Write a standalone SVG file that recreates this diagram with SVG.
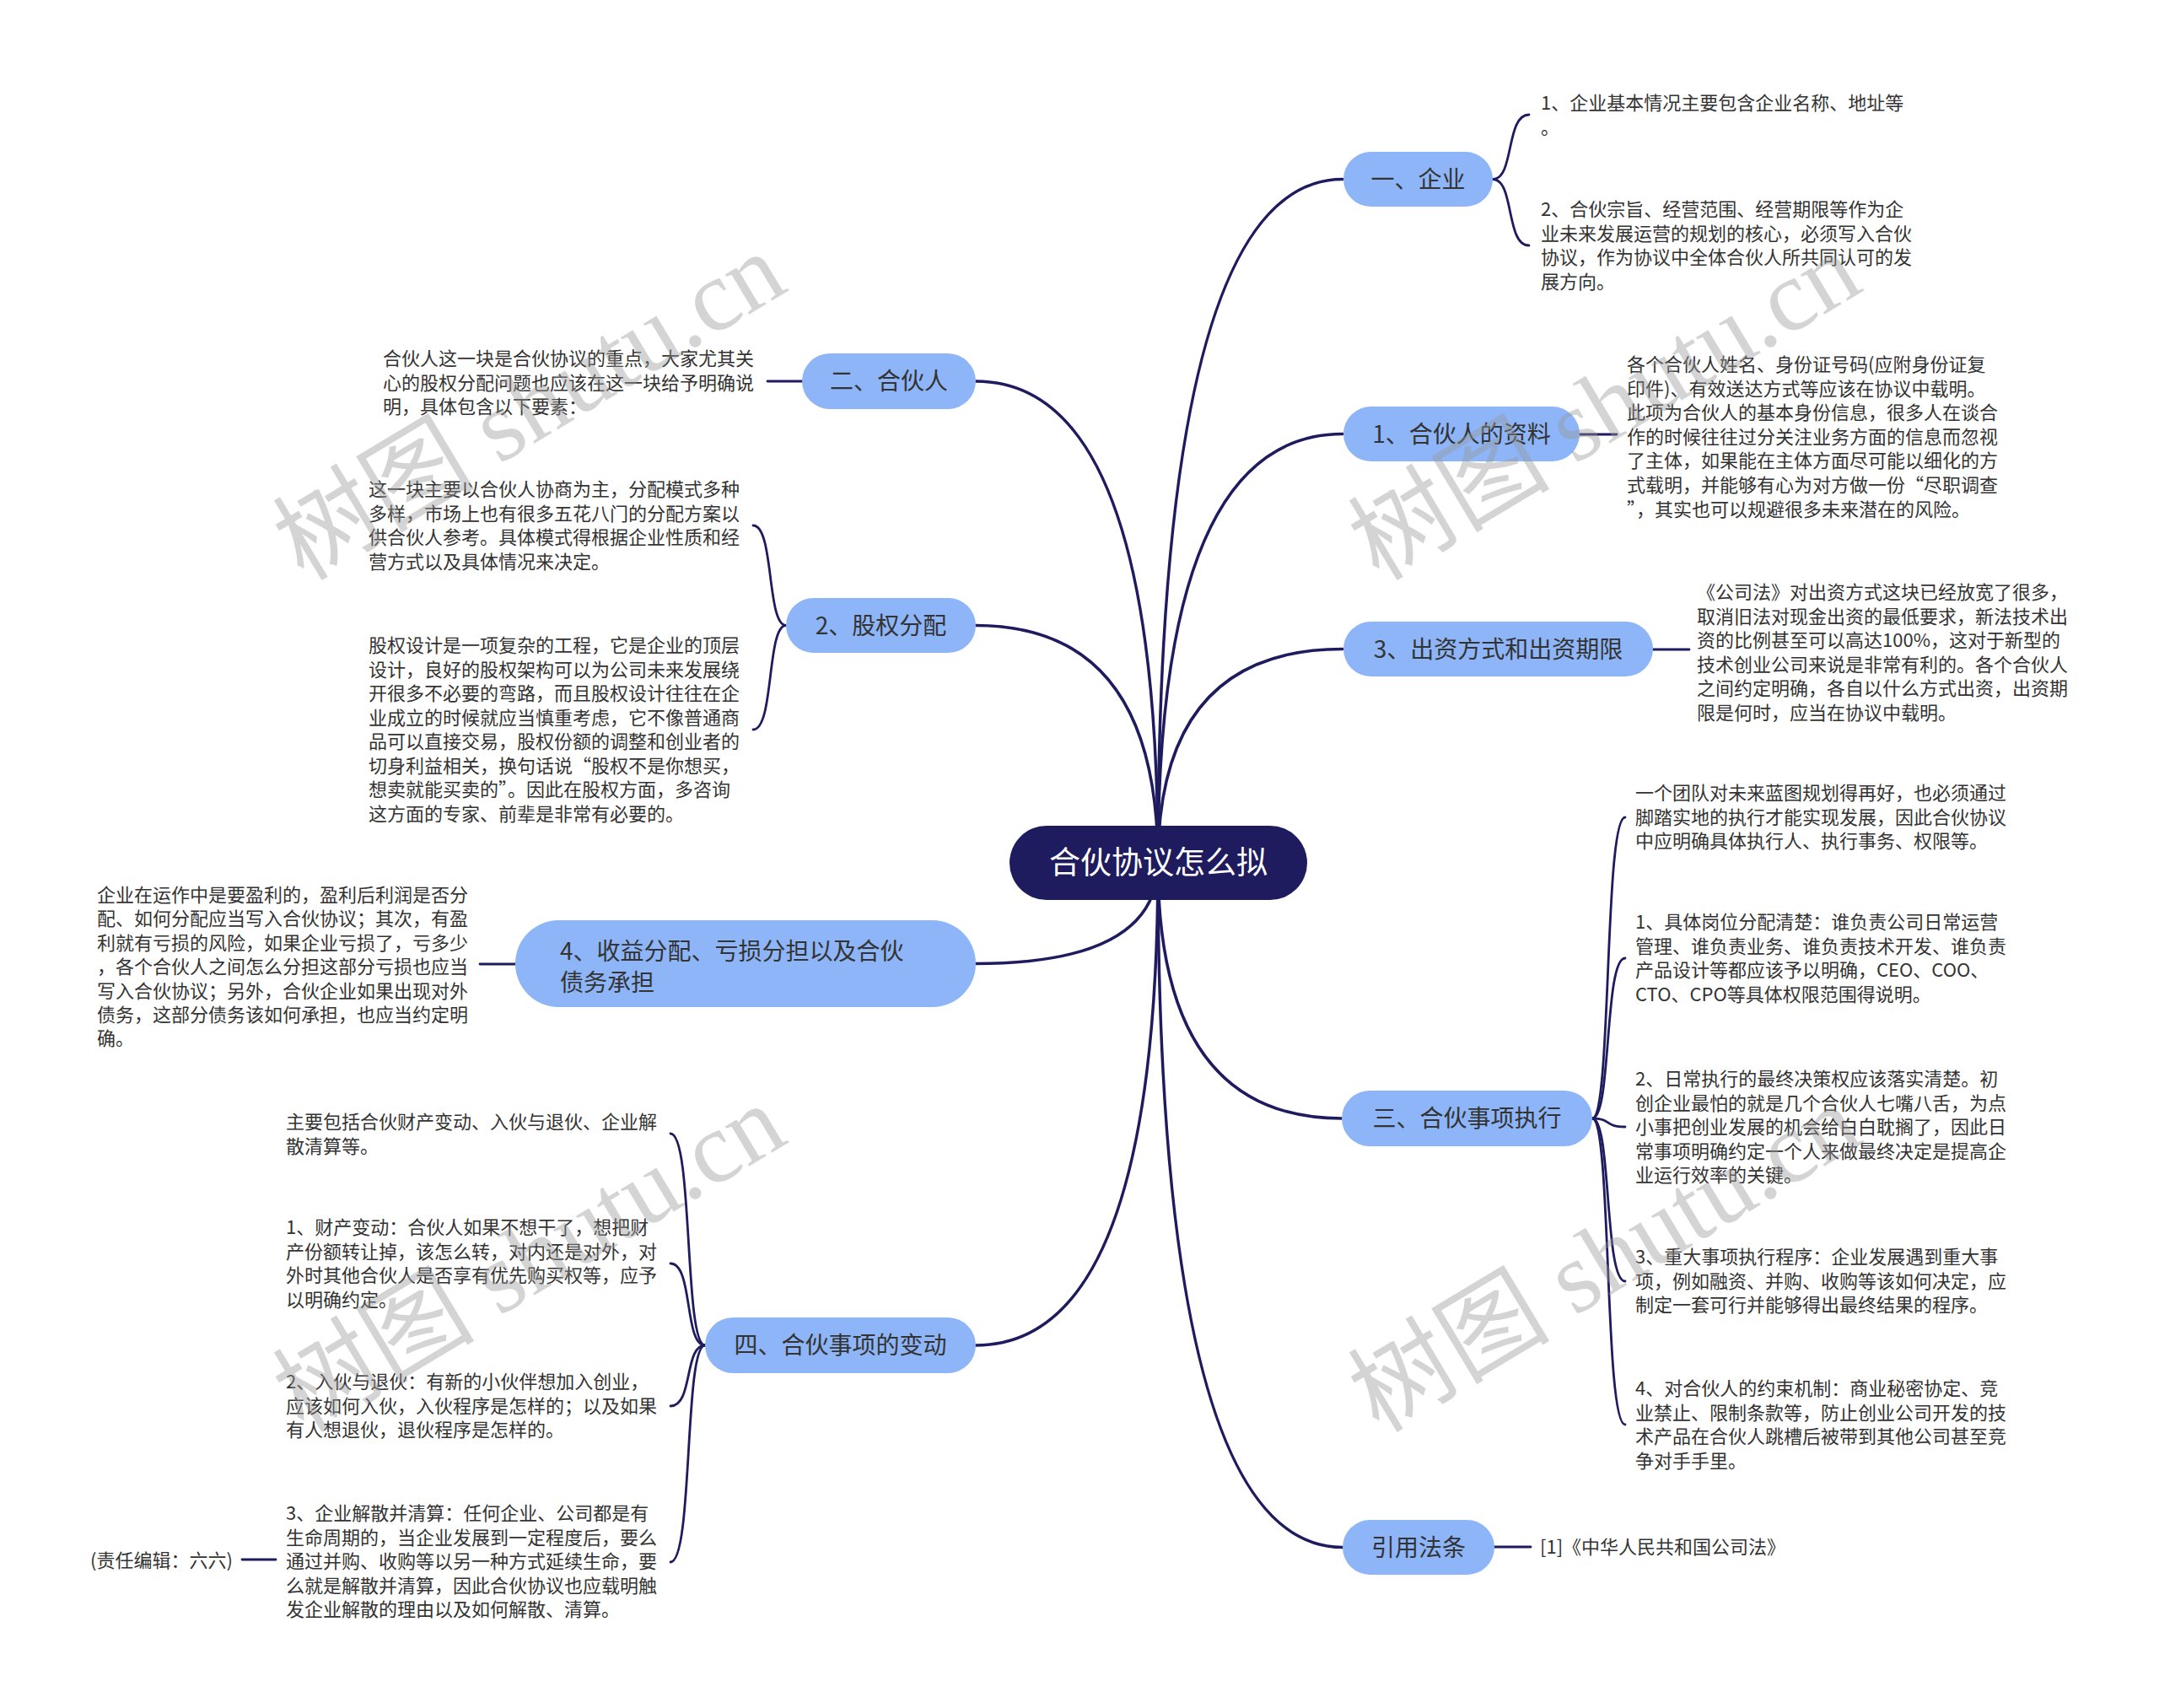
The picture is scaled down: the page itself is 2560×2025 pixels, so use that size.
<svg xmlns="http://www.w3.org/2000/svg" width="2560" height="2025" viewBox="0 0 2560 2025">
<style>
.t{font-family:"Noto Sans CJK SC","Noto Sans",sans-serif;font-size:22px;fill:#333}
.n{font-family:"Noto Sans CJK SC","Noto Sans",sans-serif;font-size:28px;fill:#333;text-anchor:middle}
.nl{font-family:"Noto Sans CJK SC","Noto Sans",sans-serif;font-size:28px;fill:#333}
.nb{fill:#8db5f7}
.cb{fill:#1e1b5e}
.ct{font-family:"Noto Sans CJK SC","Noto Sans",sans-serif;font-size:37px;fill:#fff;text-anchor:middle}
.ln{fill:none;stroke:#1e1b5e;stroke-width:3.5;stroke-linecap:round}
.sl{fill:none;stroke:#1e1b5e;stroke-width:2.8;stroke-linecap:round}
.wm{font-family:"Liberation Serif","Noto Sans CJK SC",serif;font-size:120px;fill:#999;fill-opacity:0.42}
</style>
<rect width="2560" height="2025" fill="#fff"/>
<g id="connectors">
<path class="ln" d="M1373,1023 Q1373,212.5 1592,212.5"/>
<path class="ln" d="M1373,1023 Q1373,514.5 1592,514.5"/>
<path class="ln" d="M1373,1023 Q1373,769.5 1592,769.5"/>
<path class="ln" d="M1373,1023 Q1373,1326 1591,1326"/>
<path class="ln" d="M1373,1023 Q1373,1834.5 1592,1834.5"/>
<path class="ln" d="M1373,1023 Q1373,452 1157,452"/>
<path class="ln" d="M1373,1023 Q1373,741.5 1157,741.5"/>
<path class="ln" d="M1373,1023 Q1373,1142.5 1157,1142.5"/>
<path class="ln" d="M1373,1023 Q1373,1595 1157,1595"/>
<path class="sl" d="M1770,212.5 C1796,212.5 1785,136 1813,136"/>
<path class="sl" d="M1770,212.5 C1796,212.5 1785,291 1813,291"/>
<path class="sl" d="M1873,515 L1917,515"/>
<path class="sl" d="M1960,770 L2003,770"/>
<path class="sl" d="M1888,1326 C1911,1326 1902,969 1927,969"/>
<path class="sl" d="M1888,1326 C1911,1326 1902,1136 1927,1136"/>
<path class="sl" d="M1888,1326 C1911,1326 1902,1336 1927,1336"/>
<path class="sl" d="M1888,1326 C1911,1326 1902,1519 1927,1519"/>
<path class="sl" d="M1888,1326 C1911,1326 1902,1689 1927,1689"/>
<path class="sl" d="M1772,1834 L1815,1834"/>
<path class="sl" d="M951,452 L910,452"/>
<path class="sl" d="M932,741.5 C909,741.5 918,623 893,623"/>
<path class="sl" d="M932,741.5 C909,741.5 918,865 893,865"/>
<path class="sl" d="M611,1143 L569,1143"/>
<path class="sl" d="M836,1595 C811,1595 822,1344 795,1344"/>
<path class="sl" d="M836,1595 C811,1595 822,1498 795,1498"/>
<path class="sl" d="M836,1595 C811,1595 822,1667 795,1667"/>
<path class="sl" d="M836,1595 C811,1595 822,1852 795,1852"/>
<path class="sl" d="M327,1849 L287,1849"/>
</g>
<g id="root">
<rect class="cb" x="1197" y="979" width="353" height="88" rx="44"/>
<text class="ct" x="1373.5" y="1036">合伙协议怎么拟</text>
</g>
<g id="n-qiye">
<rect class="nb" x="1593" y="180" width="177" height="65" rx="32.5"/>
<text class="n" x="1681.5" y="222.5">一、企业</text>
</g>
<g id="n-qiye-1">
<text class="t"><tspan x="1827" y="130">1、企业基本情况主要包含企业名称、地址等</tspan><tspan x="1827" y="158.5">。</tspan></text>
</g>
<g id="n-qiye-2">
<text class="t"><tspan x="1827" y="256">2、合伙宗旨、经营范围、经营期限等作为企</tspan><tspan x="1827" y="284.5">业未来发展运营的规划的核心，必须写入合伙</tspan><tspan x="1827" y="313">协议，作为协议中全体合伙人所共同认可的发</tspan><tspan x="1827" y="341.5">展方向。</tspan></text>
</g>
<g id="n-ziliao">
<rect class="nb" x="1593" y="482" width="280" height="65" rx="32.5"/>
<text class="n" x="1733" y="524.5">1、合伙人的资料</text>
</g>
<g id="n-ziliao-1">
<text class="t"><tspan x="1929" y="440">各个合伙人姓名、身份证号码(应附身份证复</tspan><tspan x="1929" y="468.6">印件)、有效送达方式等应该在协议中载明。</tspan><tspan x="1929" y="497.2">此项为合伙人的基本身份信息，很多人在谈合</tspan><tspan x="1929" y="525.8">作的时候往往过分关注业务方面的信息而忽视</tspan><tspan x="1929" y="554.4">了主体，如果能在主体方面尽可能以细化的方</tspan><tspan x="1929" y="583">式载明，并能够有心为对方做一份“尽职调查</tspan><tspan x="1929" y="611.6">”，其实也可以规避很多未来潜在的风险。</tspan></text>
</g>
<g id="n-chuzi">
<rect class="nb" x="1593" y="737" width="367" height="65" rx="32.5"/>
<text class="n" x="1776.5" y="779.5">3、出资方式和出资期限</text>
</g>
<g id="n-chuzi-1">
<text class="t"><tspan x="2012" y="710">《公司法》对出资方式这块已经放宽了很多，</tspan><tspan x="2012" y="738.5">取消旧法对现金出资的最低要求，新法技术出</tspan><tspan x="2012" y="767">资的比例甚至可以高达100%，这对于新型的</tspan><tspan x="2012" y="795.5">技术创业公司来说是非常有利的。各个合伙人</tspan><tspan x="2012" y="824">之间约定明确，各自以什么方式出资，出资期</tspan><tspan x="2012" y="852.5">限是何时，应当在协议中载明。</tspan></text>
</g>
<g id="n-zhixing">
<rect class="nb" x="1591" y="1293" width="297" height="66" rx="33"/>
<text class="n" x="1739.5" y="1336">三、合伙事项执行</text>
</g>
<g id="n-zhixing-0">
<text class="t"><tspan x="1939" y="948">一个团队对未来蓝图规划得再好，也必须通过</tspan><tspan x="1939" y="976.5">脚踏实地的执行才能实现发展，因此合伙协议</tspan><tspan x="1939" y="1005">中应明确具体执行人、执行事务、权限等。</tspan></text>
</g>
<g id="n-zhixing-1">
<text class="t"><tspan x="1939" y="1101">1、具体岗位分配清楚：谁负责公司日常运营</tspan><tspan x="1939" y="1129.5">管理、谁负责业务、谁负责技术开发、谁负责</tspan><tspan x="1939" y="1158">产品设计等都应该予以明确，CEO、COO、</tspan><tspan x="1939" y="1186.5">CTO、CPO等具体权限范围得说明。</tspan></text>
</g>
<g id="n-zhixing-2">
<text class="t"><tspan x="1939" y="1287">2、日常执行的最终决策权应该落实清楚。初</tspan><tspan x="1939" y="1315.5">创企业最怕的就是几个合伙人七嘴八舌，为点</tspan><tspan x="1939" y="1344">小事把创业发展的机会给白白耽搁了，因此日</tspan><tspan x="1939" y="1372.5">常事项明确约定一个人来做最终决定是提高企</tspan><tspan x="1939" y="1401">业运行效率的关键。</tspan></text>
</g>
<g id="n-zhixing-3">
<text class="t"><tspan x="1939" y="1498">3、重大事项执行程序：企业发展遇到重大事</tspan><tspan x="1939" y="1526.5">项，例如融资、并购、收购等该如何决定，应</tspan><tspan x="1939" y="1555">制定一套可行并能够得出最终结果的程序。</tspan></text>
</g>
<g id="n-zhixing-4">
<text class="t"><tspan x="1939" y="1654">4、对合伙人的约束机制：商业秘密协定、竞</tspan><tspan x="1939" y="1682.5">业禁止、限制条款等，防止创业公司开发的技</tspan><tspan x="1939" y="1711">术产品在合伙人跳槽后被带到其他公司甚至竞</tspan><tspan x="1939" y="1739.5">争对手手里。</tspan></text>
</g>
<g id="n-fatiao">
<rect class="nb" x="1592" y="1802" width="180" height="65" rx="32.5"/>
<text class="n" x="1682" y="1844.5">引用法条</text>
</g>
<g id="n-fatiao-1">
<text class="t" x="1826" y="1842">[1]《中华人民共和国公司法》</text>
</g>
<g id="n-hehuoren">
<rect class="nb" x="951" y="419" width="206" height="66" rx="33"/>
<text class="n" x="1054" y="462">二、合伙人</text>
</g>
<g id="n-hehuoren-1">
<text class="t"><tspan x="454" y="433">合伙人这一块是合伙协议的重点，大家尤其关</tspan><tspan x="454" y="461.5">心的股权分配问题也应该在这一块给予明确说</tspan><tspan x="454" y="490">明，具体包含以下要素：</tspan></text>
</g>
<g id="n-guquan">
<rect class="nb" x="932" y="709" width="225" height="65" rx="32.5"/>
<text class="n" x="1044.5" y="751.5">2、股权分配</text>
</g>
<g id="n-guquan-1">
<text class="t"><tspan x="437" y="588">这一块主要以合伙人协商为主，分配模式多种</tspan><tspan x="437" y="616.6">多样，市场上也有很多五花八门的分配方案以</tspan><tspan x="437" y="645.2">供合伙人参考。具体模式得根据企业性质和经</tspan><tspan x="437" y="673.8">营方式以及具体情况来决定。</tspan></text>
</g>
<g id="n-guquan-2">
<text class="t"><tspan x="437" y="773">股权设计是一项复杂的工程，它是企业的顶层</tspan><tspan x="437" y="801.5">设计，良好的股权架构可以为公司未来发展绕</tspan><tspan x="437" y="830">开很多不必要的弯路，而且股权设计往往在企</tspan><tspan x="437" y="858.5">业成立的时候就应当慎重考虑，它不像普通商</tspan><tspan x="437" y="887">品可以直接交易，股权份额的调整和创业者的</tspan><tspan x="437" y="915.5">切身利益相关，换句话说“股权不是你想买，</tspan><tspan x="437" y="944">想卖就能买卖的”。因此在股权方面，多咨询</tspan><tspan x="437" y="972.5">这方面的专家、前辈是非常有必要的。</tspan></text>
</g>
<g id="n-shouyi">
<rect class="nb" x="611" y="1091" width="546" height="103" rx="51.5"/>
<text class="nl"><tspan x="664" y="1138">4、收益分配、亏损分担以及合伙</tspan><tspan x="664" y="1175">债务承担</tspan></text>
</g>
<g id="n-shouyi-1">
<text class="t"><tspan x="115" y="1069">企业在运作中是要盈利的，盈利后利润是否分</tspan><tspan x="115" y="1097.4">配、如何分配应当写入合伙协议；其次，有盈</tspan><tspan x="115" y="1125.8">利就有亏损的风险，如果企业亏损了，亏多少</tspan><tspan x="115" y="1154.2">，各个合伙人之间怎么分担这部分亏损也应当</tspan><tspan x="115" y="1182.6">写入合伙协议；另外，合伙企业如果出现对外</tspan><tspan x="115" y="1211">债务，这部分债务该如何承担，也应当约定明</tspan><tspan x="115" y="1239.4">确。</tspan></text>
</g>
<g id="n-biandong">
<rect class="nb" x="836" y="1562" width="321" height="66" rx="33"/>
<text class="n" x="996.5" y="1605">四、合伙事项的变动</text>
</g>
<g id="n-biandong-0">
<text class="t"><tspan x="339" y="1338">主要包括合伙财产变动、入伙与退伙、企业解</tspan><tspan x="339" y="1366.5">散清算等。</tspan></text>
</g>
<g id="n-biandong-1">
<text class="t"><tspan x="339" y="1463">1、财产变动：合伙人如果不想干了，想把财</tspan><tspan x="339" y="1491.5">产份额转让掉，该怎么转，对内还是对外，对</tspan><tspan x="339" y="1520">外时其他合伙人是否享有优先购买权等，应予</tspan><tspan x="339" y="1548.5">以明确约定。</tspan></text>
</g>
<g id="n-biandong-2">
<text class="t"><tspan x="339" y="1646">2、入伙与退伙：有新的小伙伴想加入创业，</tspan><tspan x="339" y="1674.5">应该如何入伙，入伙程序是怎样的；以及如果</tspan><tspan x="339" y="1703">有人想退伙，退伙程序是怎样的。</tspan></text>
</g>
<g id="n-biandong-3">
<text class="t"><tspan x="339" y="1802">3、企业解散并清算：任何企业、公司都是有</tspan><tspan x="339" y="1830.5">生命周期的，当企业发展到一定程度后，要么</tspan><tspan x="339" y="1859">通过并购、收购等以另一种方式延续生命，要</tspan><tspan x="339" y="1887.5">么就是解散并清算，因此合伙协议也应载明触</tspan><tspan x="339" y="1916">发企业解散的理由以及如何解散、清算。</tspan></text>
</g>
<g id="n-bianji">
<text class="t" x="107" y="1858">(责任编辑：六六)</text>
</g>
<g id="watermark">
<text class="wm" transform="translate(360,690) rotate(-31)">树图 shutu.cn</text>
<text class="wm" transform="translate(1635,690) rotate(-31)">树图 shutu.cn</text>
<text class="wm" transform="translate(360,1700) rotate(-31)">树图 shutu.cn</text>
<text class="wm" transform="translate(1635,1700) rotate(-31)">树图 shutu.cn</text>
</g>
</svg>
